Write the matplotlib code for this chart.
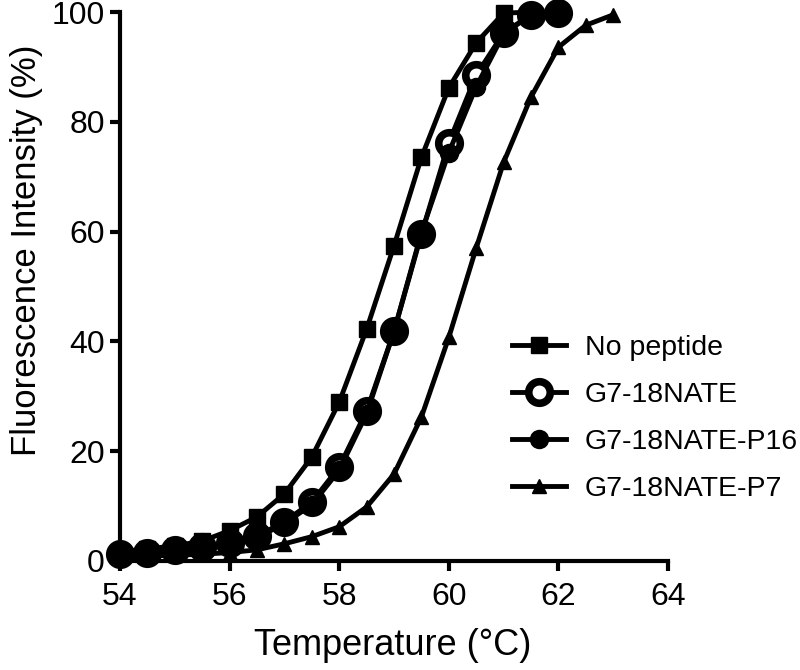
import numpy as np
import matplotlib
matplotlib.use('Agg')
import matplotlib.pyplot as plt

plt.rcParams['font.family'] = ['Liberation Sans', 'DejaVu Sans']

# melting curves
temp_np = [54, 54.5, 55, 55.5, 56, 56.5, 57, 57.5, 58, 58.5, 59, 59.5, 60, 60.5, 61, 61.5]
no_peptide = [1.6, 2.2, 2.7, 3.6, 5.5, 8.0, 12.2, 18.9, 28.9, 42.2, 57.4, 73.5, 86.2, 94.4, 99.8, 100]

temp_g7 = [54, 54.5, 55, 55.5, 56, 56.5, 57, 57.5, 58, 58.5, 59, 59.5, 60, 60.5, 61, 61.5, 62]
g7_18nate = [1.2, 1.5, 2.0, 2.5, 3.2, 4.5, 7.1, 10.7, 17.1, 27.3, 41.8, 59.5, 76.2, 88.5, 96.2, 99.5, 99.8]
g7_p16 = [1.0, 1.3, 1.8, 2.3, 3.0, 4.2, 6.8, 10.2, 16.5, 26.8, 41.8, 59.8, 74.4, 86.4, 96.0, 99.5, 100]

temp_p7 = [54, 54.5, 55, 55.5, 56, 56.5, 57, 57.5, 58, 58.5, 59, 59.5, 60, 60.5, 61, 61.5, 62, 62.5, 63]
g7_p7 = [0.8, 0.9, 1.0, 1.2, 1.5, 2.0, 3.1, 4.4, 6.2, 9.8, 15.8, 26.2, 40.7, 57.0, 72.6, 84.5, 93.6, 97.6, 99.5]

fig = plt.figure(figsize=(8, 6.7), dpi=100)
ax = fig.add_axes([0.15, 0.163, 0.685, 0.819])

lw = 3.5
ax.plot(temp_np, no_peptide, '-s', color='black', lw=lw, ms=12, clip_on=False, label='No peptide', zorder=3)
ax.plot(temp_g7, g7_18nate, '-o', color='black', mfc='white', mec='black', mew=5.5, lw=lw, ms=15.5,
        clip_on=False, label='G7-18NATE', zorder=3)
ax.plot(temp_g7, g7_p16, '-o', color='black', lw=lw, ms=13, clip_on=False, label='G7-18NATE-P16', zorder=4)
ax.plot(temp_p7, g7_p7, '-^', color='black', lw=lw, ms=10, clip_on=False, label='G7-18NATE-P7', zorder=3)

ax.set_xlim(54, 64)
ax.set_ylim(0, 100)
ax.set_xticks(np.arange(54, 65, 2))
ax.set_yticks(np.arange(0, 101, 20))
for s in ['top', 'right']:
    ax.spines[s].set_visible(False)
for s in ['left', 'bottom']:
    ax.spines[s].set_linewidth(3)
ax.tick_params(width=3, length=7, labelsize=23, direction='out')
ax.tick_params(axis='x', pad=8)
ax.tick_params(axis='y', pad=4)
ax.set_xlabel('Temperature (°C)', fontsize=26)
ax.set_ylabel('Fluorescence Intensity (%)', fontsize=25)
ax.xaxis.set_label_coords(0.498, -0.122)
ax.yaxis.set_label_coords(-0.14, 0.565)

ax.legend(loc='upper left', bbox_to_anchor=(0.716, 0.412), frameon=False, fontsize=20.5,
          handlelength=1.9, handletextpad=0.65, labelspacing=0.74, borderpad=0,
          borderaxespad=0, markerscale=1.0)

fig.savefig('out.png', dpi=100)
